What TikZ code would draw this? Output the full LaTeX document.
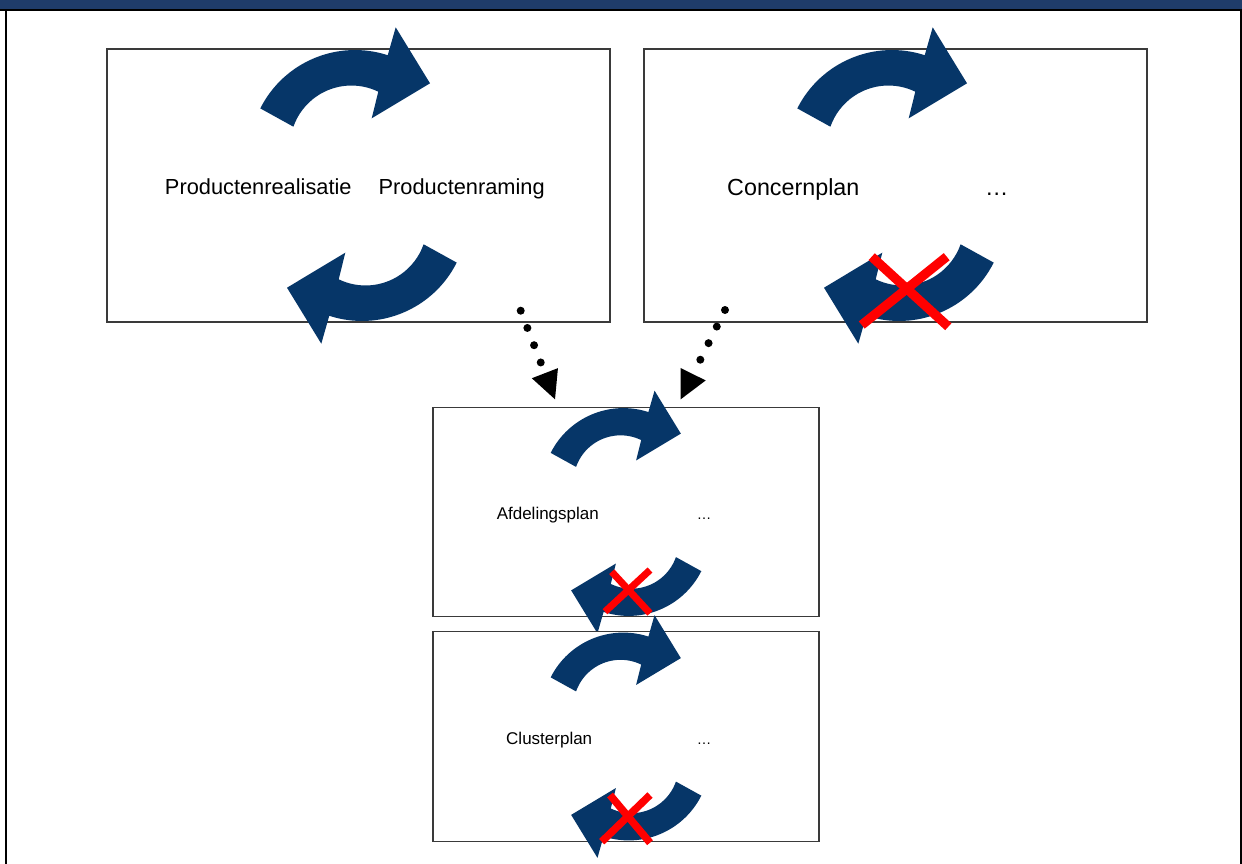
\documentclass[tikz,border=0pt]{standalone}
\usepackage{fontspec}
\setmainfont{Liberation Sans}
\usetikzlibrary{arrows.meta}
\definecolor{headblue}{HTML}{1F3C6A}
\definecolor{arrowblue}{HTML}{063668}
\definecolor{boxline}{HTML}{3A3A3A}
\definecolor{crossred}{HTML}{FF0000}

\tikzset{
  % curved block arrow, drawn around the centre of its plan box
  bendarrow/.pic={
    \fill[arrowblue]
      (-98.2,-77.1) arc[start angle=-153.3, end angle=-72, radius=106]
      -- (37.2,-158.2) -- (71.5,-102.2) -- (13.2,-67.2)
      -- (19.8,-93.8) arc[start angle=-64.1, end angle=-160.7, radius=61.5]
      -- cycle;
  },
  planbox/.style={draw=boxline, line width=1.3pt, fill=white, rectangle,
    inner sep=0pt, outer sep=0pt},
  bigbox/.style={planbox, minimum width=503pt, minimum height=273pt},
  smallbox/.style={planbox, minimum width=386pt, minimum height=209.5pt},
  txtbase/.style={anchor=base, inner sep=0pt, text=black},
  txtA/.style={txtbase, font=\fontsize{21.8}{26}\selectfont},
  txtB/.style={txtbase, font=\fontsize{23.3}{28}\selectfont},
  txtC/.style={txtbase, font=\fontsize{17}{20}\selectfont},
  txtD/.style={txtbase, font=\fontsize{14.5}{17}\selectfont},
  dotlink/.style={draw=black, line width=8pt, line cap=round,
    dash pattern=on 0pt off 18.5pt,
    -{Triangle[length=28pt, width=28pt, line width=0pt]}},
  cross/.style={draw=crossred, line cap=butt},
}

\begin{document}
\begin{tikzpicture}[x=1pt, y=-1pt]
\useasboundingbox (0,0) rectangle (1242,864);
\fill[white] (0,0) rectangle (1242,864);

% title strip and frame
\fill[headblue] (0,0) rectangle (1242,9);
\fill[black] (0,9) rectangle (1242,11);
\fill[black] (4.8,9) rectangle (6.8,864);
\fill[black] (1240,9) rectangle (1241.7,864);

% upper plans
\node[bigbox] (b1) at (358.5,185.5) {};
\pic at (358.5,185.5) {bendarrow};
\pic[rotate=180] at (358.5,185.5) {bendarrow};
\node[txtA] (t1) at (258.3,194) {Productenrealisatie};
\node[txtA] (t2) at (461.7,194) {Productenraming};

\node[bigbox] (b2) at (895.5,185.5) {};
\pic at (895.5,185.5) {bendarrow};
\pic[rotate=180] at (895.5,185.5) {bendarrow};
\node[txtB] (t3) at (793.3,195) {Concernplan};
\node[txtB] (t4) at (996.7,195) {…};
\draw[cross, line width=9.3pt] (871.7,256.7) -- (948.3,326.7);
\draw[cross, line width=9.3pt] (946.7,256.7) -- (861.7,325);

% department plan
\node[smallbox] (b3) at (626,512) {};
\pic[scale=0.767] at (626,512) {bendarrow};
\pic[scale=0.767, rotate=180] at (626,512) {bendarrow};
\node[txtC] (t5) at (547.8,519.3) {Afdelingsplan};
\node[txtD] (t6) at (704.2,519.5) {…};
\draw[cross, line width=7pt] (611.7,571.7) -- (650,613.3);
\draw[cross, line width=7pt] (650,570) -- (605,611.7);

% cluster plan
\node[smallbox] (b4) at (626,736.5) {};
\pic[scale=0.767] at (626,736.5) {bendarrow};
\pic[scale=0.767, rotate=180] at (626,736.5) {bendarrow};
\node[txtC] (t7) at (549.2,744) {Clusterplan};
\node[txtD] (t8) at (704.2,744) {…};
\draw[cross, line width=7.5pt] (610,795) -- (650,842.7);
\draw[cross, line width=7.5pt] (650,795) -- (601.7,841.7);

% dotted links from the upper plans down to the department plan
\coordinate (l1s) at (520.7,310.7);
\coordinate (l1e) at (555,399.3);
\coordinate (l2s) at (725,310);
\coordinate (l2e) at (680.7,399.3);
\draw[dotlink] (l1s) -- (l1e);
\draw[dotlink] (l2s) -- (l2e);
\end{tikzpicture}
\end{document}
